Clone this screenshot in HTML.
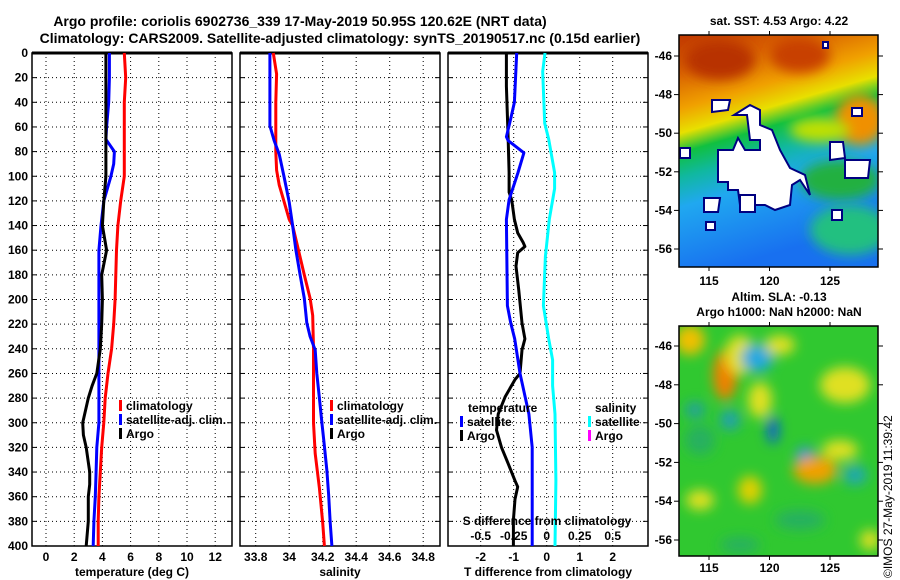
<!DOCTYPE html>
<html><head><meta charset="utf-8"><style>
body{margin:0;background:#fff;}
svg{display:block;font-family:"Liberation Sans",Arial,sans-serif;font-weight:bold;}
</style></head><body>
<svg id="c" width="900" height="580" viewBox="0 0 900 580" xmlns="http://www.w3.org/2000/svg">
<defs>
<filter id="bl" x="-50%" y="-50%" width="200%" height="200%"><feGaussianBlur stdDeviation="6"/></filter>
<linearGradient id="sst" x1="0" y1="0" x2="0.25" y2="1">
<stop offset="0" stop-color="#c03800"/><stop offset="0.15" stop-color="#d86000"/><stop offset="0.3" stop-color="#f0a000"/>
<stop offset="0.4" stop-color="#e8e000"/><stop offset="0.48" stop-color="#10c040"/><stop offset="0.58" stop-color="#10b8a0"/>
<stop offset="0.7" stop-color="#20a8f0"/><stop offset="1" stop-color="#1870f0"/></linearGradient>
<clipPath id="m1"><rect x="679" y="35" width="199" height="232"/></clipPath>
<clipPath id="m2"><rect x="679" y="326" width="199" height="230"/></clipPath>
</defs>
<text x="300" y="26" text-anchor="middle" font-size="14">Argo profile: coriolis 6902736_339 17-May-2019 50.95S 120.62E (NRT data)</text>
<text x="340" y="43" text-anchor="middle" font-size="14">Climatology: CARS2009. Satellite-adjusted climatology: synTS_20190517.nc (0.15d earlier)</text>
<g id="plots"></g>
<text x="779" y="25" text-anchor="middle" font-size="12">sat. SST: 4.53 Argo: 4.22</text>
<g clip-path="url(#m1)">
<rect x="679" y="35" width="199" height="232" fill="url(#sst)"/>
<ellipse cx="720" cy="60" rx="35" ry="20" fill="#b83000" filter="url(#bl)"/>
<ellipse cx="800" cy="55" rx="30" ry="18" fill="#c84000" filter="url(#bl)"/>
<ellipse cx="860" cy="120" rx="25" ry="25" fill="#f09000" filter="url(#bl)"/>
<ellipse cx="840" cy="180" rx="40" ry="20" fill="#20b040" filter="url(#bl)"/>
<ellipse cx="850" cy="230" rx="40" ry="25" fill="#20c080" filter="url(#bl)"/>
<ellipse cx="820" cy="130" rx="30" ry="12" fill="#c0e000" filter="url(#bl)"/>
<g fill="#fff" stroke="#000080" stroke-width="2">
<polygon points="734,115 747,115 750,140 760,140 760,150 745,150 738,138 733,150 718,150 718,182 728,182 728,190 738,190 740,205 765,205 775,210 790,205 792,185 800,180 810,195 805,175 790,168 780,150 772,130 760,125 760,110 750,105"/>
<polygon points="712,100 730,100 728,110 712,112"/>
<polygon points="680,148 690,148 690,158 680,158"/>
<polygon points="740,195 755,195 755,212 740,212"/>
<polygon points="830,142 843,142 845,158 830,160"/>
<polygon points="845,160 870,160 868,178 845,178"/>
<polygon points="832,210 842,210 842,220 832,220"/>
<polygon points="704,198 720,198 718,212 704,212"/>
<polygon points="706,222 715,222 715,230 706,230"/>
<polygon points="852,108 862,108 862,116 852,116"/>
<polygon points="823,42 828,42 828,48 823,48"/>
</g>
</g>
<rect x="679" y="35" width="199" height="232" fill="none" stroke="#000" stroke-width="1.5"/>
<g id="map1axes"></g>
<text x="779" y="301" text-anchor="middle" font-size="12">Altim. SLA: -0.13</text>
<text x="779" y="316" text-anchor="middle" font-size="12">Argo h1000: NaN h2000: NaN</text>
<g clip-path="url(#m2)">
<rect x="679" y="326" width="199" height="230" fill="#30c830"/>
<g filter="url(#bl)">
<ellipse cx="690" cy="340" rx="15" ry="15" fill="#f0c000"/>
<ellipse cx="725" cy="375" rx="12" ry="25" fill="#f08000"/>
<ellipse cx="740" cy="355" rx="15" ry="20" fill="#e0e020"/>
<ellipse cx="757" cy="358" rx="16" ry="14" fill="#20a8e0"/>
<ellipse cx="780" cy="345" rx="15" ry="10" fill="#e0e020"/>
<ellipse cx="845" cy="385" rx="25" ry="18" fill="#e0e020"/>
<ellipse cx="760" cy="400" rx="12" ry="18" fill="#e0e020"/>
<ellipse cx="773" cy="430" rx="6" ry="14" fill="#1060d0"/>
<ellipse cx="730" cy="420" rx="10" ry="10" fill="#20a0b0"/>
<ellipse cx="695" cy="410" rx="10" ry="8" fill="#20a0a0"/>
<ellipse cx="805" cy="455" rx="9" ry="8" fill="#2090e0"/>
<ellipse cx="815" cy="470" rx="22" ry="14" fill="#f0a000"/>
<ellipse cx="840" cy="450" rx="18" ry="10" fill="#e0e020"/>
<ellipse cx="855" cy="475" rx="12" ry="10" fill="#20a8b0"/>
<ellipse cx="750" cy="490" rx="12" ry="14" fill="#e0d000"/>
<ellipse cx="700" cy="500" rx="14" ry="10" fill="#e0e020"/>
<ellipse cx="870" cy="540" rx="10" ry="10" fill="#e0e020"/>
<ellipse cx="800" cy="520" rx="25" ry="10" fill="#28b060"/>
<ellipse cx="740" cy="545" rx="20" ry="8" fill="#28b060"/>
<ellipse cx="700" cy="440" rx="15" ry="15" fill="#28b060"/>
</g>
</g>
<rect x="679" y="326" width="199" height="230" fill="none" stroke="#000" stroke-width="1.5"/>
<g id="map2axes"></g>
<text transform="translate(892,578) rotate(-90)" font-size="12" font-weight="normal">©IMOS 27-May-2019 11:39:42</text>
</svg>
<script>
const depthTicks = [0,20,40,60,80,100,120,140,160,180,200,220,240,260,280,300,320,340,360,380,400];
const tempTicks = [0,2,4,6,8,10,12];
const climDepth = [0,20,40,100,120,140,160,200,220,240,260,280,300,320,340,360,380,400];
const climT = [5.55,5.65,5.55,5.55,5.3,5.1,5.0,4.9,4.8,4.65,4.4,4.2,4.1,3.95,3.85,3.75,3.7,3.7];
const satDepth = [0,20,40,60,70,80,90,100,120,140,160,200,300,320,340,360,380,400];
const satT = [4.5,4.5,4.45,4.3,4.25,4.85,4.8,4.6,4.1,3.9,3.75,3.75,3.75,3.6,3.55,3.5,3.4,3.35];
const argoDepth = [0,20,60,100,120,140,160,180,200,220,240,260,270,280,300,310,320,340,350,360,380,400];
const argoT = [4.25,4.25,4.25,4.25,4.1,4.0,4.3,3.95,4.0,3.95,3.85,3.6,3.27,3.0,2.6,2.65,2.85,3.1,3.1,3.0,3.0,2.85];
const salTicks = [33.8,34,34.2,34.4,34.6,34.8];
const climSDepth = [0,17,40,80,95,107,121,135,140,157,180,199,213,240,300,325,353,381,400];
const climS = [33.905,33.925,33.92,33.92,33.925,33.94,33.97,34.0,34.02,34.05,34.09,34.125,34.14,34.145,34.145,34.155,34.18,34.2,34.21];
const satSDepth = [0,59,71,82,101,121,140,160,180,199,219,230,241,260,280,300,319,339,358,381,400];
const satS = [33.885,33.885,33.91,33.94,33.97,34.0,34.02,34.04,34.065,34.09,34.105,34.125,34.155,34.165,34.18,34.195,34.21,34.225,34.235,34.245,34.255];
const dTTicks = [-2,-1,0,1,2];
const dSTicks = [-0.5,-0.25,0,0.25,0.5];
const dSTickLabels = ['-0.5','-0.25','0','0.25','0.5'];
const argoDTDepth = [0,27,68,97,113,119,135,146,154,157,162,173,192,219,232,241,260,265,279,293,306,320,333,347,352,362,379,400];
const argoDT = [-1.22,-1.22,-1.17,-1.14,-1.14,-1.06,-0.98,-0.88,-0.71,-0.66,-0.88,-0.93,-0.85,-0.75,-0.66,-0.75,-0.81,-0.96,-1.26,-1.47,-1.52,-1.37,-1.17,-0.96,-0.88,-0.96,-1.01,-1.01];
const satDTDepth = [0,40,52,68,71,81,97,119,135,205,219,232,260,293,320,400];
const satDT = [-0.91,-0.98,-1.08,-1.22,-1.17,-0.69,-0.87,-1.14,-1.22,-1.19,-1.09,-0.97,-0.81,-0.54,-0.44,-0.44];
const satDSDepth = [0,15,57,70,97,110,135,165,205,232,249,270,293,347,400];
const satDS = [-0.013,-0.03,-0.015,0.015,0.06,0.06,0.02,-0.01,-0.025,0.015,0.045,0.045,0.063,0.07,0.063];
const latTicks = [-46,-48,-50,-52,-54,-56];
const lonTicks = [115,120,125];

const NS='http://www.w3.org/2000/svg';
const root=document.getElementById('plots');
function mk(tag,attrs,parent){const e=document.createElementNS(NS,tag);for(const k in attrs)e.setAttribute(k,attrs[k]);(parent||root).appendChild(e);return e;}
const yD=d=>53+d*1.2325;
const yTop=53,yBot=546;
const panels=[
 {x0:32,x1:232,xs:v=>46+v*14.1,ticks:tempTicks,labels:tempTicks.map(String),title:'temperature (deg C)',tx:132},
 {x0:240,x1:440,xs:v=>255.7+(v-33.8)*167.5,ticks:salTicks,labels:salTicks.map(String),title:'salinity',tx:340},
 {x0:448,x1:648,xs:v=>546.7+v*33,ticks:dTTicks,labels:dTTicks.map(String),title:'T difference from climatology',tx:548}
];
panels.forEach((p,i)=>{
 const g=mk('g',{});
 
 
 depthTicks.forEach(d=>{
  const y=yD(d);
  if(d>0&&d<400){const l=mk('line',{x1:p.x0,x2:p.x1,y1:y,y2:y,stroke:'#000','stroke-width':1,'stroke-dasharray':'1 3'},g);}
  mk('line',{x1:p.x0,x2:p.x0+5,y1:y,y2:y,stroke:'#000'},g);
  mk('line',{x1:p.x1,x2:p.x1-5,y1:y,y2:y,stroke:'#000'},g);
 });
 p.ticks.forEach((v,k)=>{
  const x=p.xs(v);
  const l=mk('line',{x1:x,x2:x,y1:yTop,y2:yBot,stroke:'#000','stroke-width':1,'stroke-dasharray':'1 3'},g);
  
  
  const t=mk('text',{x:x,y:561,'text-anchor':'middle','font-size':12},g);
  t.textContent=p.labels[k];
  
  
 });
 const f=mk('rect',{x:p.x0,y:yTop,width:p.x1-p.x0,height:yBot-yTop,fill:'none',stroke:'#000','stroke-width':1.5},g);
 
 
 mk('line',{x1:p.x0,x2:p.x1,y1:yTop,y2:yTop,stroke:'#000','stroke-width':3},g);
 const tt=mk('text',{x:p.tx,y:576,'text-anchor':'middle','font-size':12},g);
 tt.textContent=p.title;
 
 
});
depthTicks.forEach(d=>{
 const t=mk('text',{x:28,y:yD(d)+4,'text-anchor':'end','font-size':12});
 t.textContent=d;
 
 
});
function line(depths,vals,xs,color,name,w){
 const pts=depths.map((d,i)=>xs(vals[i]).toFixed(1)+','+yD(d).toFixed(1)).join(' ');
 const e=mk('polyline',{points:pts,fill:'none',stroke:color,'stroke-width':w||3,'stroke-linejoin':'round'});
 
 
}
const P=panels;
line(climDepth,climT,P[0].xs,'#ff0000','temp-climatology-line');
line(satDepth,satT,P[0].xs,'#0000ff','temp-satellite-line');
line(argoDepth,argoT,P[0].xs,'#000','temp-argo-line');
line(climSDepth,climS,P[1].xs,'#ff0000','sal-climatology-line');
line(satSDepth,satS,P[1].xs,'#0000ff','sal-satellite-line');
const xS=v=>546.7+v*132;
line(satDSDepth,satDS,xS,'#00ffff','sdiff-satellite-line');
line(argoDTDepth,argoDT,P[2].xs,'#000','tdiff-argo-line');
line(satDTDepth,satDT,P[2].xs,'#0000ff','tdiff-satellite-line');
dSTicks.forEach((v,k)=>{
 const t=mk('text',{x:xS(v),y:540,'text-anchor':'middle','font-size':12});
 t.textContent=dSTickLabels[k];
 
 
});
{const t=mk('text',{x:547,y:525,'text-anchor':'middle','font-size':12});t.textContent='S difference from climatology';}
function leg(x,y,color,label,name){
 const r=mk('rect',{x:x,y:y-9,width:3,height:11,fill:color});
 
 
 if(label){const t=mk('text',{x:x+7,y:y+1,'font-size':12});t.textContent=label;}
}
leg(119,409,'#ff0000','climatology','legend-temp-climatology');
leg(119,423,'#0000ff','satellite-adj. clim.','legend-temp-satellite');
leg(119,437,'#000','Argo','legend-temp-argo');
leg(330,409,'#ff0000','climatology','legend-sal-climatology');
leg(330,423,'#0000ff','satellite-adj. clim.','legend-sal-satellite');
leg(330,437,'#000','Argo','legend-sal-argo');
{const t=mk('text',{x:468,y:412,'font-size':12});t.textContent='temperature';}
{const t=mk('text',{x:595,y:412,'font-size':12});t.textContent='salinity';}
leg(460,425,'#0000ff','satellite','legend-tdiff-satellite');
leg(460,439,'#000','Argo','legend-tdiff-argo');
leg(588,425,'#00ffff','satellite','legend-sdiff-satellite');
leg(588,439,'#ff00ff','Argo','legend-sdiff-argo');
function mapAxes(gid,y0,y1,latY,labY){
 const g=document.getElementById(gid);
 latTicks.forEach(v=>{
  const y=latY(v);
  mk('line',{x1:674,x2:679,y1:y,y2:y,stroke:'#000'},g);
  mk('line',{x1:878,x2:883,y1:y,y2:y,stroke:'#000'},g);
  const t=mk('text',{x:672,y:y+4,'text-anchor':'end','font-size':12},g);
  t.textContent=v;
  
  
 });
 lonTicks.forEach(v=>{
  const x=709+(v-115)*12.1;
  mk('line',{x1:x,x2:x,y1:y1,y2:y1+4,stroke:'#000'},g);
  mk('line',{x1:x,x2:x,y1:y0-4,y2:y0,stroke:'#000'},g);
  const t=mk('text',{x:x,y:labY,'text-anchor':'middle','font-size':12},g);
  t.textContent=v;
  
  
 });
}
mapAxes('map1axes',35,267,v=>56+(-46-v)*19.3,285);
mapAxes('map2axes',326,556,v=>346+(-46-v)*19.4,572);
</script>
</body></html>
